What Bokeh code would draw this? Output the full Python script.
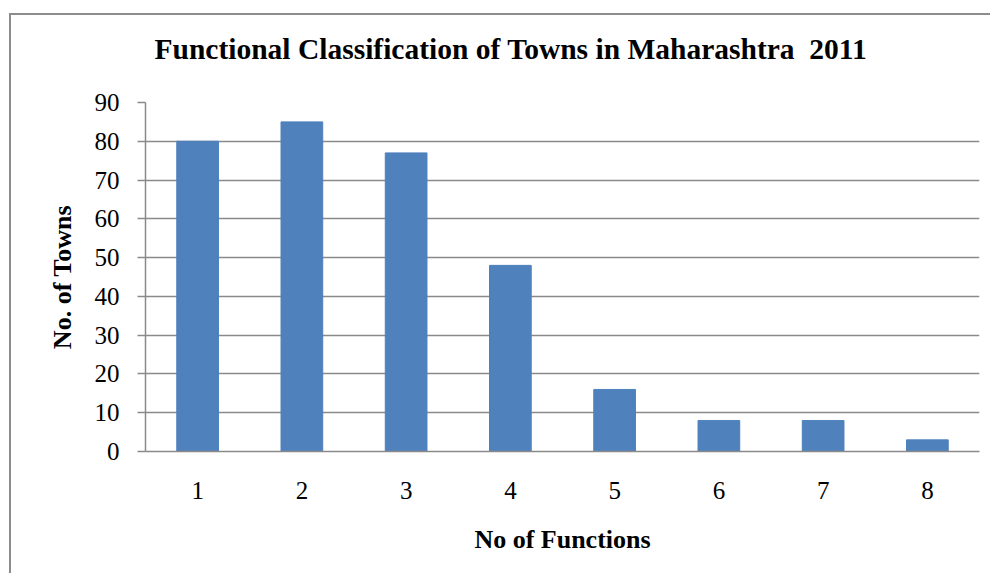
from bokeh.plotting import figure
from bokeh.models import ColumnDataSource, FactorRange, Range1d, FixedTicker
from bokeh.embed import file_html
from bokeh.resources import INLINE

functions = ["1", "2", "3", "4", "5", "6", "7", "8"]
towns = [80, 85, 77, 48, 16, 8, 8, 3]
y_ticks = [0, 10, 20, 30, 40, 50, 60, 70, 80, 90]
title_text = "Functional Classification of Towns in Maharashtra\u00a0\u00a02011"

FONT = "Liberation Serif"
GRAY = "#8a8a8a"
EDGE = "linear-gradient(#8c8c8c, #8c8c8c)"

src = ColumnDataSource(data=dict(x=functions, y=towns))

p = figure(
    x_range=FactorRange(*functions),
    y_range=Range1d(0, 90),
    width=990, height=580,
    output_backend="svg", toolbar_location=None,
    title=title_text,
    min_border_left=145, min_border_right=11, min_border_top=108, min_border_bottom=122,
    styles={
        "margin-top": "-7px",
        "background": f"{EDGE} 9px 20px / 2px 100% no-repeat, {EDGE} 9px 20px / 100% 2px no-repeat, white",
    },
)
p.vbar(x="x", top="y", width=0.4, source=src, fill_color="#4F81BD", line_color="#4F81BD")

p.title.text_font = FONT
p.title.text_font_size = "29.5px"
p.title.text_font_style = "bold"
p.title.text_color = "black"
p.title.align = "left"
p.title.offset = 9
p.title.standoff = 75

p.outline_line_color = None
p.background_fill_color = "white"
p.border_fill_color = None

p.xgrid.grid_line_color = None
p.ygrid.grid_line_color = GRAY
p.ygrid.grid_line_width = 1.3
p.yaxis.ticker = FixedTicker(ticks=y_ticks)

for ax in (p.xaxis[0], p.yaxis[0]):
    ax.axis_line_color = GRAY
    ax.axis_line_width = 1.5
    ax.major_label_text_font = FONT
    ax.major_label_text_font_size = "25px"
    ax.major_label_text_color = "black"
    ax.axis_label_text_font = FONT
    ax.axis_label_text_font_size = "26px"
    ax.axis_label_text_font_style = "bold"
    ax.axis_label_text_color = "black"
    ax.minor_tick_line_color = None

p.xaxis.major_tick_line_color = None
p.xaxis.major_tick_out = 0
p.xaxis.major_tick_in = 0
p.xaxis.major_label_standoff = 30
p.xaxis.axis_label = "No of Functions"
p.xaxis.axis_label_standoff = 23

p.yaxis.major_tick_line_color = GRAY
p.yaxis.major_tick_line_width = 1.5
p.yaxis.major_tick_out = 8
p.yaxis.major_tick_in = 0
p.yaxis.major_label_standoff = 18
p.yaxis.axis_label = "No. of Towns"
p.yaxis.axis_label_standoff = 15

open("out.html", "w").write(file_html(p, INLINE))
